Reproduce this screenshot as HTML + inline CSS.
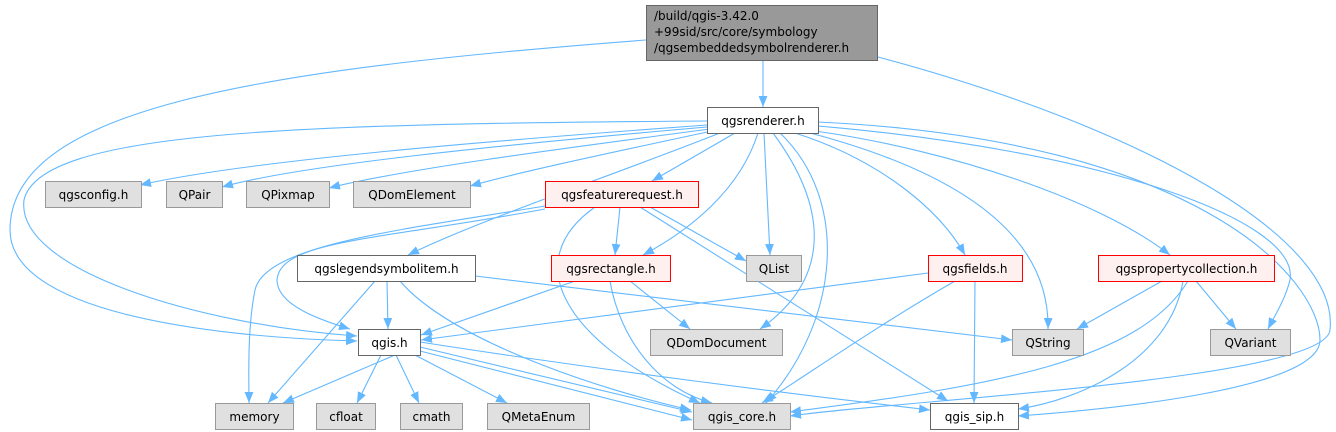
<!DOCTYPE html>
<html><head><meta charset="utf-8"><style>
body{margin:0;background:#fff;}
svg{display:block;}
text{font-family:"DejaVu Sans","Liberation Sans",sans-serif;font-size:12px;fill:#000;}
</style></head><body>
<svg width="1336" height="432" viewBox="0 0 1336 432" xmlns="http://www.w3.org/2000/svg">
<defs>
<marker id="a" viewBox="0 0 10 8" refX="10" refY="4" markerWidth="11" markerHeight="9" markerUnits="userSpaceOnUse" orient="auto">
<path d="M0,0 L10,4 L0,8 z" fill="#63b8ff"/>
</marker>
</defs>
<g fill="none" stroke="#63b8ff" stroke-width="1.1" marker-end="url(#a)">
<path d="M763,60 L763,107"/>
<path d="M646,40 C 250,70 10,110 10,230 C 10,310 200,337 357,341"/>
<path d="M878,57 C 1150,130 1340,240 1330,330 C 1325,380 900,400 790,416"/>
<path d="M707,121 C 300,124 40,130 24,200 C 15,270 200,325 357,336"/>
<path d="M707,125 C 500,140 250,160 140,185"/>
<path d="M707,127 C 500,145 300,165 222,187"/>
<path d="M710,129 C 550,150 400,170 329,188"/>
<path d="M712,131 C 600,155 520,172 470,186"/>
<path d="M735,133 L652,181"/>
<path d="M720,133 C 600,180 480,220 408,255"/>
<path d="M758,133 C 740,190 690,230 643,255"/>
<path d="M764,133 L770,255"/>
<path d="M773,133 C 830,210 830,280 760,329"/>
<path d="M780,133 C 850,200 840,320 766,403"/>
<path d="M795,133 C 880,160 940,210 965,255"/>
<path d="M810,133 C 950,170 1050,230 1048,329"/>
<path d="M815,131 C 950,150 1100,200 1170,255"/>
<path d="M818,126 C 1100,150 1300,220 1290,280 C 1285,300 1275,315 1268,329"/>
<path d="M818,122 C 1200,140 1320,280 1320,340 C 1320,390 1100,410 1018,416"/>
<path d="M545,206 C 400,230 265,245 255,290 C 247,330 249,380 249,403"/>
<path d="M545,209 C 380,240 280,240 277,280 C 277,305 320,320 350,329"/>
<path d="M620,207 L615,255"/>
<path d="M650,207 L746,261"/>
<path d="M595,207 C 520,260 560,340 700,403"/>
<path d="M640,207 L948,401"/>
<path d="M387,281 L388,329"/>
<path d="M375,281 L268,403"/>
<path d="M400,281 C 450,340 600,390 691,410"/>
<path d="M475,276 L1012,340"/>
<path d="M575,281 L421,335"/>
<path d="M630,281 L690,329"/>
<path d="M610,281 C 620,340 660,390 712,403"/>
<path d="M928,273 L421,340"/>
<path d="M955,281 C 870,330 800,380 762,403"/>
<path d="M975,281 L974,403"/>
<path d="M1162,281 L1077,329"/>
<path d="M1196,281 L1236,329"/>
<path d="M1188,281 C 1140,360 1000,385 790,412"/>
<path d="M1183,281 C 1170,360 1080,400 1018,409"/>
<path d="M395,355 L283,403"/>
<path d="M381,355 L357,403"/>
<path d="M396,355 L419,403"/>
<path d="M415,355 L507,403"/>
<path d="M420,347 L692,412"/>
<path d="M420,351 L692,420"/>
<path d="M420,342 C 600,370 800,395 930,410"/>
</g>
<g stroke-width="1">
<rect x="646.5" y="5.5" width="231" height="55" fill="#999" stroke="#666"/>
<rect x="707.5" y="107.5" width="111" height="26" fill="#fff" stroke="#666"/>
<rect x="45.5" y="181.5" width="96" height="26" fill="#e0e0e0" stroke="#999"/>
<rect x="166.5" y="181.5" width="56" height="26" fill="#e0e0e0" stroke="#999"/>
<rect x="246.5" y="181.5" width="83" height="26" fill="#e0e0e0" stroke="#999"/>
<rect x="353.5" y="181.5" width="117" height="26" fill="#e0e0e0" stroke="#999"/>
<rect x="545.5" y="181.5" width="153" height="26" fill="#fff0f0" stroke="#f00"/>
<rect x="297.5" y="255.5" width="178" height="26" fill="#fff" stroke="#666"/>
<rect x="551.5" y="255.5" width="119" height="26" fill="#fff0f0" stroke="#f00"/>
<rect x="746.5" y="255.5" width="55" height="26" fill="#e0e0e0" stroke="#999"/>
<rect x="928.5" y="255.5" width="94" height="26" fill="#fff0f0" stroke="#f00"/>
<rect x="1098.5" y="255.5" width="176" height="26" fill="#fff0f0" stroke="#f00"/>
<rect x="358.5" y="329.5" width="62" height="26" fill="#fff" stroke="#666"/>
<rect x="650.5" y="329.5" width="132" height="26" fill="#e0e0e0" stroke="#999"/>
<rect x="1012.5" y="329.5" width="71" height="26" fill="#e0e0e0" stroke="#999"/>
<rect x="1210.5" y="329.5" width="80" height="26" fill="#e0e0e0" stroke="#999"/>
<rect x="215.5" y="403.5" width="78" height="26" fill="#e0e0e0" stroke="#999"/>
<rect x="316.5" y="403.5" width="59" height="26" fill="#e0e0e0" stroke="#999"/>
<rect x="400.5" y="403.5" width="62" height="26" fill="#e0e0e0" stroke="#999"/>
<rect x="487.5" y="403.5" width="102" height="26" fill="#e0e0e0" stroke="#999"/>
<rect x="693.5" y="403.5" width="97" height="26" fill="#e0e0e0" stroke="#999"/>
<rect x="930.5" y="403.5" width="88" height="26" fill="#fff" stroke="#666"/>
</g>
<g>
<text x="654" y="20">/build/qgis-3.42.0</text>
<text x="654" y="36">+99sid/src/core/symbology</text>
<text x="654" y="52">/qgsembeddedsymbolrenderer.h</text>
</g>
<g text-anchor="middle">
<text x="763" y="125">qgsrenderer.h</text>
<text x="93.5" y="199">qgsconfig.h</text>
<text x="194.5" y="199">QPair</text>
<text x="288" y="199">QPixmap</text>
<text x="412" y="199">QDomElement</text>
<text x="622" y="199">qgsfeaturerequest.h</text>
<text x="386.5" y="273">qgslegendsymbolitem.h</text>
<text x="611" y="273">qgsrectangle.h</text>
<text x="774" y="273">QList</text>
<text x="975" y="273">qgsfields.h</text>
<text x="1186.5" y="273">qgspropertycollection.h</text>
<text x="389.5" y="347">qgis.h</text>
<text x="716.5" y="347">QDomDocument</text>
<text x="1048" y="347">QString</text>
<text x="1250.5" y="347">QVariant</text>
<text x="254.5" y="421">memory</text>
<text x="346" y="421">cfloat</text>
<text x="431.5" y="421">cmath</text>
<text x="538.5" y="421">QMetaEnum</text>
<text x="742" y="421">qgis_core.h</text>
<text x="974.5" y="421">qgis_sip.h</text>
</g>
</svg>
</body></html>
